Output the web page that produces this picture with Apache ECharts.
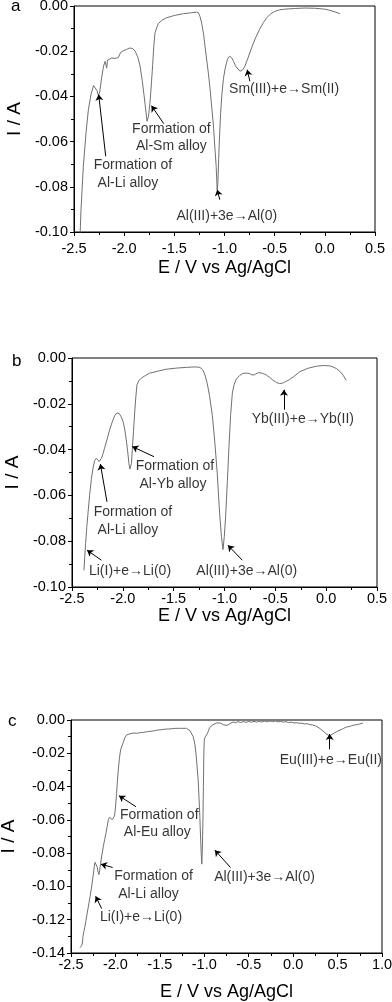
<!DOCTYPE html>
<html><head><meta charset="utf-8">
<script src="https://cdn.jsdelivr.net/npm/echarts@6/dist/echarts.min.js"></script>
<style>html,body{margin:0;padding:0;background:#fff}#c{width:392px;height:1002px}</style>
</head><body><div id="c"></div>
<script>
// Panel a (Sm)
const aE = [-2.445,-2.43,-2.407,-2.38,-2.357,-2.33,-2.305,-2.29,-2.27,-2.258,-2.245,-2.224,-2.205,-2.19,-2.18,-2.174,-2.166,-2.15,-2.124,-2.09,-2.058,-2.035,-2.008,-1.975,-1.945,-1.915,-1.891,-1.865,-1.842,-1.82,-1.802,-1.785,-1.772,-1.758,-1.742,-1.728,-1.716,-1.705,-1.693,-1.675,-1.66,-1.62,-1.577,-1.5,-1.411,-1.33,-1.28,-1.26,-1.245,-1.228,-1.21,-1.195,-1.177,-1.16,-1.143,-1.127,-1.11,-1.097,-1.083,-1.073,-1.066,-1.058,-1.05,-1.038,-1.026,-1.01,-0.993,-0.97,-0.95,-0.93,-0.91,-0.89,-0.865,-0.845,-0.825,-0.8,-0.77,-0.73,-0.69,-0.65,-0.61,-0.58,-0.54,-0.5,-0.45,-0.4,-0.3,-0.2,-0.1,0.0,0.05,0.1,0.15];
const aI = [-0.108,-0.09,-0.071,-0.056,-0.046,-0.039,-0.0352,-0.035,-0.0375,-0.0395,-0.0385,-0.0315,-0.0265,-0.0245,-0.024,-0.0275,-0.024,-0.0232,-0.023,-0.0232,-0.0228,-0.0205,-0.0198,-0.0192,-0.0186,-0.0188,-0.02,-0.0225,-0.0265,-0.033,-0.0395,-0.046,-0.051,-0.049,-0.0425,-0.034,-0.026,-0.018,-0.012,-0.0095,-0.0078,-0.0062,-0.0052,-0.0042,-0.0034,-0.003,-0.0027,-0.003,-0.0045,-0.0075,-0.012,-0.0175,-0.024,-0.03,-0.037,-0.045,-0.053,-0.062,-0.071,-0.0813,-0.078,-0.068,-0.058,-0.047,-0.039,-0.032,-0.0275,-0.0235,-0.0222,-0.0228,-0.0245,-0.0265,-0.028,-0.0288,-0.0285,-0.027,-0.0235,-0.0185,-0.014,-0.0103,-0.0072,-0.0052,-0.0035,-0.0024,-0.0017,-0.0014,-0.0011,-0.0009,-0.001,-0.0014,-0.0019,-0.0026,-0.0034];
// Panel b (Yb)
const bE = [-2.382,-2.375,-2.366,-2.355,-2.343,-2.327,-2.31,-2.293,-2.277,-2.26,-2.247,-2.234,-2.222,-2.21,-2.195,-2.18,-2.155,-2.13,-2.105,-2.08,-2.06,-2.048,-2.035,-2.015,-1.998,-1.982,-1.966,-1.952,-1.94,-1.93,-1.923,-1.915,-1.907,-1.895,-1.884,-1.872,-1.861,-1.84,-1.818,-1.78,-1.736,-1.65,-1.572,-1.47,-1.375,-1.3,-1.25,-1.228,-1.21,-1.195,-1.17,-1.146,-1.12,-1.097,-1.072,-1.048,-1.03,-1.015,-1.002,-0.989,-0.972,-0.956,-0.94,-0.923,-0.905,-0.884,-0.85,-0.818,-0.785,-0.752,-0.73,-0.703,-0.68,-0.66,-0.625,-0.589,-0.556,-0.523,-0.49,-0.457,-0.42,-0.39,-0.359,-0.31,-0.26,-0.18,-0.097,-0.03,0.034,0.067,0.1,0.133,0.165,0.198];
const bI = [-0.0927,-0.087,-0.081,-0.074,-0.068,-0.06,-0.053,-0.048,-0.0448,-0.0438,-0.0443,-0.0452,-0.0448,-0.0438,-0.0418,-0.0394,-0.0355,-0.0314,-0.028,-0.0252,-0.024,-0.0238,-0.0243,-0.0258,-0.0277,-0.031,-0.0358,-0.041,-0.046,-0.0485,-0.0493,-0.046,-0.04,-0.032,-0.024,-0.017,-0.0117,-0.0098,-0.0088,-0.0077,-0.0066,-0.0057,-0.0049,-0.0044,-0.0041,-0.0039,-0.004,-0.0045,-0.0055,-0.007,-0.011,-0.0168,-0.025,-0.0358,-0.05,-0.0679,-0.078,-0.0837,-0.078,-0.0693,-0.054,-0.0387,-0.025,-0.0153,-0.0115,-0.0092,-0.0076,-0.0067,-0.0066,-0.0068,-0.0074,-0.0073,-0.0066,-0.0064,-0.0067,-0.0074,-0.0085,-0.0097,-0.0107,-0.0112,-0.0108,-0.0101,-0.0094,-0.0078,-0.006,-0.0045,-0.0036,-0.0033,-0.0034,-0.0039,-0.0046,-0.0057,-0.0074,-0.0098];
// Panel c (Eu)
const cE = [-2.399,-2.39,-2.38,-2.372,-2.365,-2.355,-2.345,-2.331,-2.318,-2.305,-2.285,-2.268,-2.252,-2.238,-2.23,-2.223,-2.214,-2.204,-2.195,-2.185,-2.178,-2.167,-2.152,-2.137,-2.122,-2.107,-2.093,-2.08,-2.068,-2.05,-2.035,-2.024,-2.012,-2.005,-1.996,-1.987,-1.978,-1.968,-1.955,-1.942,-1.935,-1.925,-1.912,-1.895,-1.874,-1.85,-1.825,-1.8,-1.78,-1.76,-1.74,-1.72,-1.7,-1.68,-1.66,-1.64,-1.62,-1.6,-1.58,-1.56,-1.54,-1.52,-1.5,-1.48,-1.46,-1.44,-1.42,-1.4,-1.38,-1.36,-1.34,-1.32,-1.3,-1.28,-1.26,-1.24,-1.22,-1.2,-1.18,-1.16,-1.144,-1.125,-1.106,-1.09,-1.078,-1.069,-1.058,-1.05,-1.04,-1.033,-1.028,-1.022,-1.015,-1.01,-1.005,-1.0,-0.992,-0.975,-0.956,-0.94,-0.92,-0.9,-0.88,-0.86,-0.84,-0.82,-0.8,-0.78,-0.76,-0.74,-0.72,-0.7,-0.675,-0.65,-0.62,-0.59,-0.56,-0.53,-0.5,-0.47,-0.44,-0.41,-0.38,-0.35,-0.32,-0.29,-0.26,-0.23,-0.2,-0.17,-0.14,-0.11,-0.08,-0.05,-0.02,0.01,0.04,0.07,0.1,0.13,0.16,0.19,0.22,0.25,0.28,0.31,0.34,0.37,0.39,0.41,0.43,0.45,0.47,0.49,0.51,0.54,0.57,0.6,0.63,0.66,0.69,0.72,0.75,0.786];
const cI = [-0.1368,-0.1365,-0.1354,-0.134,-0.13,-0.127,-0.1245,-0.1203,-0.116,-0.1123,-0.106,-0.1003,-0.094,-0.0882,-0.0855,-0.0848,-0.086,-0.0885,-0.0915,-0.0929,-0.0905,-0.0862,-0.081,-0.0762,-0.072,-0.0682,-0.064,-0.06,-0.0585,-0.059,-0.0598,-0.0592,-0.0578,-0.0555,-0.05,-0.0441,-0.037,-0.0301,-0.023,-0.018,-0.017,-0.0155,-0.0135,-0.0108,-0.009,-0.0085,-0.0082,-0.0078,-0.0074,-0.008,-0.0072,-0.0076,-0.0068,-0.0074,-0.0066,-0.007,-0.0063,-0.0068,-0.006,-0.0064,-0.0056,-0.006,-0.0053,-0.0058,-0.005,-0.0055,-0.005,-0.0054,-0.0047,-0.0052,-0.0046,-0.005,-0.0044,-0.005,-0.0046,-0.005,-0.0045,-0.005,-0.0055,-0.0065,-0.0075,-0.01,-0.0145,-0.022,-0.03,-0.036,-0.048,-0.058,-0.073,-0.082,-0.0866,-0.078,-0.06,-0.04,-0.02,-0.012,-0.0105,-0.009,-0.007,-0.0045,-0.0035,-0.0028,-0.0022,-0.0018,-0.0016,-0.0018,-0.0022,-0.003,-0.0035,-0.0032,-0.0025,-0.0018,-0.0012,-0.0016,-0.001,-0.0015,-0.001,-0.0014,-0.0009,-0.0013,-0.0008,-0.0013,-0.0008,-0.0012,-0.0007,-0.0011,-0.0006,-0.001,-0.0006,-0.0011,-0.0008,-0.0013,-0.001,-0.0015,-0.0013,-0.0018,-0.0016,-0.002,-0.0019,-0.0024,-0.0022,-0.0028,-0.003,-0.0035,-0.0043,-0.0055,-0.0068,-0.0082,-0.0092,-0.0096,-0.0092,-0.0082,-0.0075,-0.007,-0.0064,-0.0058,-0.005,-0.0042,-0.004,-0.0034,-0.003,-0.0028,-0.0024,-0.0018];

// Annotation arrows [tailE, tailI, headE, headI]
const aArrows = [[-2.184,-0.0665,-2.254,-0.0392],[-1.605,-0.0521,-1.728,-0.0441],[-1.047,-0.0857,-1.073,-0.0813],[-0.747,-0.0333,-0.774,-0.0282]];
const bArrows = [[-2.211,-0.0883,-2.352,-0.0839],[-2.156,-0.0628,-2.221,-0.0463],[-1.693,-0.0431,-1.907,-0.0387],[-0.825,-0.0883,-0.966,-0.0818],[-0.415,-0.0226,-0.415,-0.0139]];
const cArrows = [[-2.155,-0.1133,-2.223,-0.1059],[-2.032,-0.0886,-2.163,-0.0866],[-1.769,-0.0521,-1.96,-0.0455],[-0.705,-0.0886,-0.881,-0.0782],[0.411,-0.0176,0.411,-0.0084]];
// Annotation texts [E, I, text]
const aNotes = [[-2.304,-0.0745,'Formation of\n Al-Li alloy'],[-1.921,-0.0583,'Formation of\n Al-Sm alloy'],[-1.479,-0.0931,'Al(III)+3e\u2192Al(0)'],[-0.954,-0.0367,'Sm(III)+e\u2192Sm(II)']];
const bNotes = [[-2.333,-0.093,'Li(I)+e\u2192Li(0)'],[-2.287,-0.0713,'Formation of\n Al-Li alloy'],[-1.874,-0.0512,'Formation of\n Al-Yb alloy'],[-1.277,-0.093,'Al(III)+3e\u2192Al(0)'],[-0.733,-0.0267,'Yb(III)+e\u2192Yb(II)']];
const cNotes = [[-2.174,-0.1183,'Li(I)+e\u2192Li(0)'],[-2.013,-0.0991,'Formation of\n Al-Li alloy'],[-1.949,-0.0624,'Formation of\n Al-Eu alloy'],[-0.889,-0.0943,'Al(III)+3e\u2192Al(0)'],[-0.151,-0.0241,'Eu(III)+e\u2192Eu(II)']];
const panelLetters = ['a','b','c'];
const xTitle = 'E / V vs Ag/AgCl';
const yTitle = 'I / A';

const FONT = '"Liberation Sans", Arial, sans-serif';
const panels = [
  {E:aE, I:aI, arrows:aArrows, notes:aNotes, xmin:-2.5, xmax:0.5, ymin:-0.10,
   grid:{left:74, top:6, width:301, height:226}, xLabelMargin:9, xNameGap:27, yNameGap:48, letterPos:[16,7]},
  {E:bE, I:bI, arrows:bArrows, notes:bNotes, xmin:-2.5, xmax:0.5, ymin:-0.10,
   grid:{left:72, top:358, width:305, height:229}, xLabelMargin:4, xNameGap:20, yNameGap:50, letterPos:[17,362]},
  {E:cE, I:cI, arrows:cArrows, notes:cNotes, xmin:-2.5, xmax:1.0, ymin:-0.14,
   grid:{left:71, top:720, width:311, height:233}, xLabelMargin:4, xNameGap:30, yNameGap:53, letterPos:[13,722]}
];

const grids=[], xAxes=[], yAxes=[], series=[], graphics=[];
panels.forEach((p,k)=>{
  grids.push(Object.assign({show:true, borderColor:'#000', borderWidth:1, backgroundColor:'transparent', containLabel:false, outerBoundsMode:'none'}, p.grid));
  xAxes.push({type:'value', gridIndex:k, min:p.xmin, max:p.xmax, interval:0.5,
    name:xTitle, nameLocation:'middle', nameGap:p.xNameGap,
    nameTextStyle:{fontSize:18, color:'#000', fontFamily:FONT},
    axisLine:{show:true, onZero:false, lineStyle:{color:'#000', width:1}},
    axisTick:{show:true, inside:false, length:4, lineStyle:{color:'#000'}},
    minorTick:{show:true, splitNumber:2, length:3, lineStyle:{color:'#000'}},
    splitLine:{show:false}, minorSplitLine:{show:false},
    axisLabel:{fontSize:14.5, color:'#000', fontFamily:FONT, margin:p.xLabelMargin, formatter:v=>v.toFixed(1), showMinLabel:true, showMaxLabel:true, hideOverlap:false}
  });
  yAxes.push({type:'value', gridIndex:k, min:p.ymin, max:0, interval:0.02,
    name:yTitle, nameLocation:'middle', nameGap:p.yNameGap,
    nameTextStyle:{fontSize:19, color:'#000', fontFamily:FONT},
    axisLine:{show:true, onZero:false, lineStyle:{color:'#000', width:1}},
    axisTick:{show:true, inside:false, length:4, lineStyle:{color:'#000'}},
    minorTick:{show:true, splitNumber:2, length:3, lineStyle:{color:'#000'}},
    splitLine:{show:false}, minorSplitLine:{show:false},
    axisLabel:{fontSize:14.5, color:'#000', fontFamily:FONT, margin:6, formatter:v=>v.toFixed(2), showMinLabel:true, showMaxLabel:true, hideOverlap:false}
  });
  series.push({type:'line', xAxisIndex:k, yAxisIndex:k, data:p.E.map((e,i)=>[e,p.I[i]]),
    showSymbol:false, symbol:'none', smooth:false, clip:true, silent:true,
    lineStyle:{color:'#707070', width:1},
    markLine:{silent:true, symbol:['none','arrow'], symbolSize:6,
      label:{show:false}, lineStyle:{color:'#000', width:1, type:'solid'},
      emphasis:{disabled:true},
      data:p.arrows.map(a=>[{coord:[a[0],a[1]]},{coord:[a[2],a[3]]}])}
  });
  series.push({type:'scatter', xAxisIndex:k, yAxisIndex:k, silent:true,
    data:p.notes.map(n=>({value:[n[0],n[1]], name:n[2]})),
    symbolSize:1, itemStyle:{color:'rgba(0,0,0,0)'},
    label:{show:true, position:'inside', align:'left', verticalAlign:'middle',
      formatter:q=>q.name, fontSize:14, lineHeight:17.5, color:'#000', fontFamily:FONT}
  });
  graphics.push({type:'text', left:p.letterPos[0]-5, top:p.letterPos[1]-9,
    style:{text:panelLetters[k], fontSize:17, fill:'#000', font:'17px '+FONT}});
});

const chart = echarts.init(document.getElementById('c'), null, {renderer:'canvas'});
chart.setOption({animation:false, backgroundColor:'#fff', grid:grids, xAxis:xAxes, yAxis:yAxes, series:series, graphic:graphics});
</script></body></html>
